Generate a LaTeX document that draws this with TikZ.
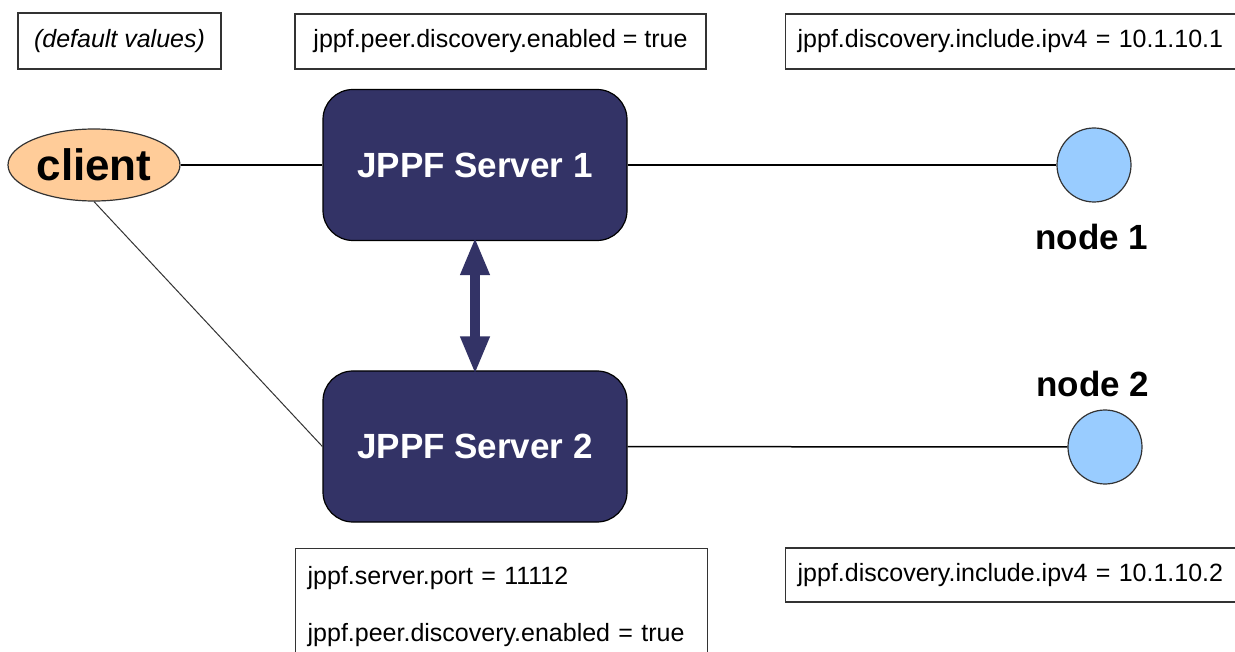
\documentclass[tikz,border=0pt]{standalone}
\usepackage{fontspec}
\setmainfont{Liberation Sans}
\usetikzlibrary{arrows.meta,shapes.geometric}
\definecolor{navy}{HTML}{333366}
\definecolor{orangefill}{HTML}{FFCC99}
\definecolor{bluefill}{HTML}{99CCFF}
\definecolor{edgegray}{HTML}{333333}
\begin{document}
\begin{tikzpicture}[x=1pt,y=-1pt,
  infobox/.style={draw=edgegray, line width=1.3pt, fill=white, inner sep=0pt,
    font=\fontsize{25}{30}\selectfont},
  leftbox/.style={infobox, align=left, inner xsep=12pt},
  server/.style={draw=black, line width=1.2pt, fill=navy, rounded corners=30pt,
    minimum width=304pt, minimum height=151pt, text=white,
    font=\fontsize{35}{40}\selectfont\bfseries},
  worker/.style={circle, draw=edgegray, line width=1.2pt, fill=bluefill,
    minimum size=74pt, inner sep=0pt},
  wlabel/.style={anchor=base, font=\fontsize{35}{40}\selectfont\bfseries},
  link/.style={draw=black, line width=1.5pt}
]
\clip (0,0) rectangle (1235,652);
\fill[white] (0,0) rectangle (1235,652);

% info boxes
\node[infobox, minimum width=203pt, minimum height=56pt, font=\fontsize{25}{30}\selectfont\itshape] (defv) at (119.5,41) {(default values)};
\node[infobox, minimum width=411pt, minimum height=55pt] (peer1) at (500.5,41.5) {jppf.peer.discovery.enabled = true};
\node[leftbox, anchor=west, text width=440pt, minimum height=55pt] (inc1) at (785,41.5) {jppf.discovery.include.ipv4 = 10.1.10.1};
\node[leftbox, anchor=north west, text width=388pt, inner ysep=18pt, font=\fontsize{25}{57}\selectfont] (srv2cfg) at (295,548) {jppf.server.port = 11112\\jppf.peer.discovery.enabled = true};
\node[leftbox, anchor=west, text width=440pt, minimum height=54pt] (inc2) at (785,575) {jppf.discovery.include.ipv4 = 10.1.10.2};

% main nodes
\node[ellipse, draw=edgegray, line width=1.2pt, fill=orangefill, minimum width=172pt, minimum height=72pt, inner sep=0pt, font=\fontsize{44}{48}\selectfont\bfseries] (client) at (94,165) {client};
\node[server] (s1) at (475,165) {JPPF Server 1};
\node[server] (s2) at (475,446.5) {JPPF Server 2};
\node[worker] (n1) at (1094,165) {};
\node[worker] (n2) at (1105,447) {};
\node[wlabel] (n1l) at (1092,250) {node 1};
\node[wlabel] (n2l) at (1093,396) {node 2};

% connectors
\draw[link] (client) -- (s1);
\draw[link] (s1) -- (n1);
\draw[link] (s2) -- (n2);
\draw[draw=black!80, line width=1pt] (client.south) -- (s2.west);
\draw[navy, line width=10pt, shorten <=-4pt, shorten >=-4pt, {Triangle[width=27pt,length=38pt]}-{Triangle[width=27pt,length=38pt]}] (s1.south) -- (s2.north);
\end{tikzpicture}
\end{document}
